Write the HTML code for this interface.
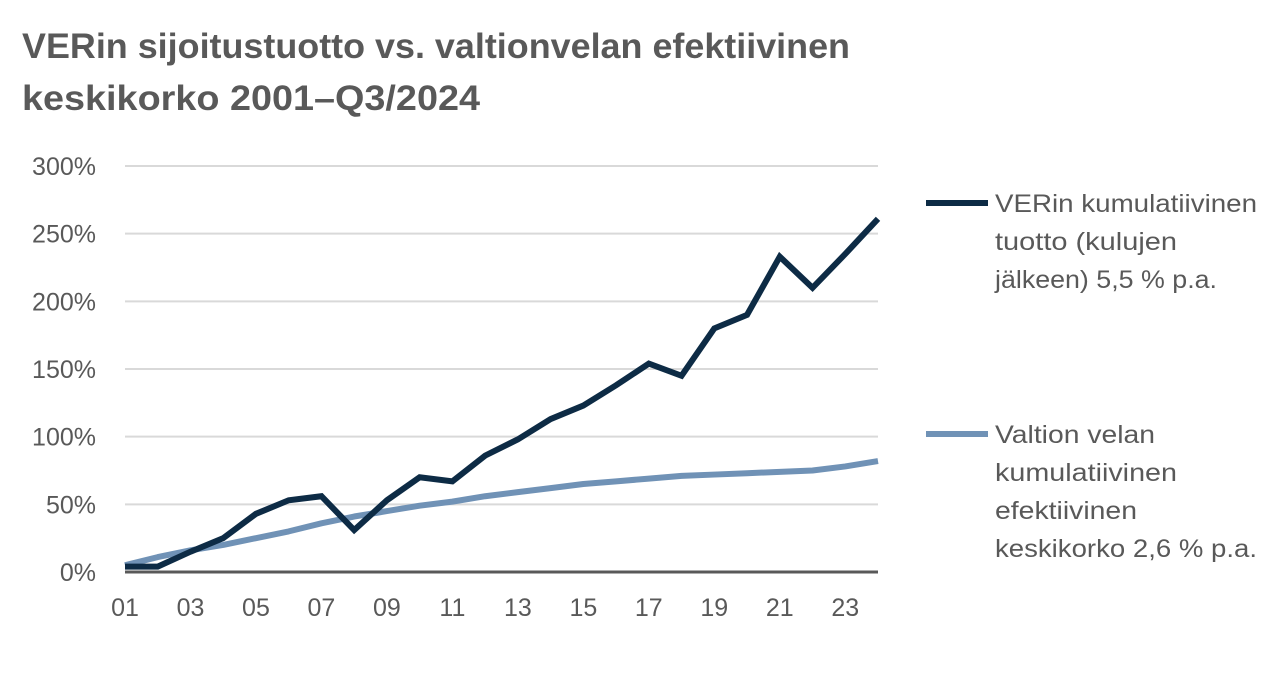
<!DOCTYPE html>
<html><head><meta charset="utf-8"><style>
body{margin:0;width:1288px;height:672px;background:#fff;overflow:hidden;font-family:"Liberation Sans",sans-serif}
</style></head><body>
<svg width="1288" height="672" font-family="Liberation Sans, sans-serif">
<text x="22" y="58" font-size="35" font-weight="bold" fill="#595959" textLength="828" lengthAdjust="spacingAndGlyphs">VERin sijoitustuotto vs. valtionvelan efektiivinen</text>
<text x="22" y="110" font-size="35" font-weight="bold" fill="#595959" textLength="458" lengthAdjust="spacingAndGlyphs">keskikorko 2001–Q3/2024</text>
<g id="grid"></g><g id="yt"></g><g id="xt"></g><g id="lines"></g>
<g font-size="25" fill="#595959">
<line x1="926" y1="203" x2="988" y2="203" stroke="#0d2b45" stroke-width="6"/>
<text x="995" y="212" textLength="262" lengthAdjust="spacingAndGlyphs">VERin kumulatiivinen</text>
<text x="995" y="250" textLength="182" lengthAdjust="spacingAndGlyphs">tuotto (kulujen</text>
<text x="995" y="288" textLength="222" lengthAdjust="spacingAndGlyphs">jälkeen) 5,5 % p.a.</text>
<line x1="926" y1="434" x2="988" y2="434" stroke="#7092b6" stroke-width="6"/>
<text x="995" y="443" textLength="160" lengthAdjust="spacingAndGlyphs">Valtion velan</text>
<text x="995" y="481" textLength="182" lengthAdjust="spacingAndGlyphs">kumulatiivinen</text>
<text x="995" y="519" textLength="142" lengthAdjust="spacingAndGlyphs">efektiivinen</text>
<text x="995" y="557" textLength="262" lengthAdjust="spacingAndGlyphs">keskikorko 2,6 % p.a.</text>
</g>
</svg>
<script>
const years=["01","02","03","04","05","06","07","08","09","10","11","12","13","14","15","16","17","18","19","20","21","22","23","24"];
const verReturn=[4,4,15,25,43,53,56,31,53,70,67,86,98,113,123,138,154,145,180,190,233,210,235,261];
const debtRate=[5,11,16,20,25,30,36,41,45,49,52,56,59,62,65,67,69,71,72,73,74,75,78,82];
const yTicks=[0,50,100,150,200,250,300];
const xLabelYears=["01","03","05","07","09","11","13","15","17","19","21","23"];
const NS="http://www.w3.org/2000/svg";
const x0=125,x1=878,y0=572,y1=166;
const xs=i=>x0+(x1-x0)*i/(years.length-1);
const ys=v=>y0-(y0-y1)*v/300;
function mk(tag,attrs,parent){const e=document.createElementNS(NS,tag);for(const k in attrs)e.setAttribute(k,attrs[k]);document.getElementById(parent).appendChild(e);return e;}
yTicks.forEach(t=>{
 if(t>0){const g=mk('line',{x1:x0,x2:x1,y1:ys(t),y2:ys(t),stroke:'#d9d9d9','stroke-width':2},'grid');
 
 }
 const l=mk('text',{x:96,y:ys(t)+9,'font-size':25,fill:'#595959','text-anchor':'end'},'yt');
 l.textContent=t+'%';
 
 
});
const ax=mk('line',{x1:x0,x2:x1,y1:y0,y2:y0,stroke:'#595959','stroke-width':3},'grid');


xLabelYears.forEach(y=>{
 const i=years.indexOf(y);
 const l=mk('text',{x:xs(i),y:616,'font-size':25,fill:'#595959','text-anchor':'middle'},'xt');
 l.textContent=y;
 
 
});
const d2=mk('polyline',{points:debtRate.map((v,i)=>xs(i)+','+ys(v)).join(' '),fill:'none',stroke:'#7092b6','stroke-width':6,'stroke-linejoin':'round'},'lines');


const d1=mk('polyline',{points:verReturn.map((v,i)=>xs(i)+','+ys(v)).join(' '),fill:'none',stroke:'#0d2b45','stroke-width':6,'stroke-linejoin':'miter'},'lines');


</script>
</body></html>
